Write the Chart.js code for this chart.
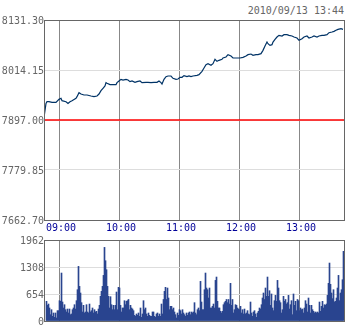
<!DOCTYPE html>
<html lang="en">
<head>
<meta charset="UTF-8">
<title>Intraday index</title>
<script src="https://cdn.jsdelivr.net/npm/chart.js@4/dist/chart.umd.min.js"></script>
<style>
  html, body { margin: 0; padding: 0; background: #fff; }
  body { width: 350px; height: 330px; position: relative; overflow: hidden; }
  #stamp { position: absolute; right: 6px; top: 6px; font: 10px/10px 'DejaVu Sans Mono', monospace; color: #666; }
  canvas { position: absolute; left: 0; }
  #price { top: 0; }
  #vol { top: 230px; }
</style>
</head>
<body>
<div id="stamp">2010/09/13 13:44</div>
<canvas id="price" width="350" height="240"></canvas>
<canvas id="vol" width="350" height="100"></canvas>
<script>
// minutes counted from 08:45, axis runs to 13:45
const xTicks = [15, 75, 135, 195, 255];
const xTickLabels = ['09:00', '10:00', '11:00', '12:00', '13:00'];
const yTicks = [7662.70, 7779.85, 7897.00, 8014.15, 8131.30];
const volTicks = [0, 654, 1308, 1962];
const prevClose = 7897.00;

const lineMinutes = [
  0, 2, 3, 5, 8, 12, 15, 17, 18, 22,
  24, 26, 28, 32, 33, 35, 37, 40, 43, 47,
  50, 53, 55, 57, 59, 61, 62, 63, 66, 68,
  72, 73, 75, 77, 79, 82, 84, 86, 88, 91,
  93, 96, 98, 102, 104, 107, 110, 113, 115, 117,
  118, 120, 122, 124, 127, 129, 132, 134, 136, 138,
  140, 143, 145, 147, 149, 153, 155, 158, 160, 162,
  164, 167, 169, 171, 173, 175, 178, 179, 182, 184,
  187, 189, 193, 196, 199, 202, 204, 207, 209, 212,
  214, 217, 219, 221, 223, 224, 226, 228, 229, 231,
  233, 235, 238, 240, 243, 245, 248, 250, 253, 255,
  258, 260, 263, 265, 268, 270, 273, 275, 278, 280,
  283, 285, 288, 290, 292, 294, 297, 299
];
const lineValues = [
  7903.0, 7936.0, 7939.9, 7939.9, 7938.4, 7938.4, 7945.4, 7947.8, 7942.3, 7939.9,
  7936.0, 7939.9, 7942.3, 7947.8, 7951.7, 7961.0, 7957.9, 7955.6, 7955.6, 7953.2,
  7951.7, 7953.2, 7957.9, 7965.7, 7971.2, 7976.7, 7984.5, 7982.9, 7979.8, 7979.8,
  7979.8, 7984.5, 7988.4, 7992.3, 7990.7, 7992.3, 7990.7, 7986.8, 7988.4, 7985.2,
  7986.8, 7988.4, 7984.5, 7985.2, 7985.2, 7984.5, 7985.2, 7985.2, 7988.4, 7984.5,
  7981.3, 7992.3, 7998.5, 8000.1, 8000.1, 7994.6, 7992.3, 7993.1, 7997.0, 7997.0,
  8000.9, 7998.5, 8000.1, 7998.5, 8000.1, 8001.6, 8003.2, 8011.0, 8018.8, 8026.6,
  8029.0, 8025.1, 8029.0, 8039.1, 8034.4, 8036.8, 8039.1, 8042.3, 8044.6, 8050.1,
  8046.9, 8042.3, 8042.3, 8042.3, 8043.8, 8046.9, 8050.1, 8051.6, 8048.5, 8050.1,
  8050.1, 8052.4, 8060.2, 8070.4, 8079.7, 8075.8, 8071.9, 8073.5, 8079.7, 8086.0,
  8091.5, 8095.4, 8093.8, 8096.9, 8096.9, 8095.4, 8093.8, 8091.5, 8089.1, 8083.6,
  8087.5, 8091.5, 8093.8, 8089.1, 8091.5, 8093.8, 8091.5, 8093.8, 8095.4, 8095.4,
  8096.9, 8101.6, 8103.2, 8104.7, 8107.1, 8109.4, 8111.0, 8109.4
];

// one bar per minute, starting at minute 2
const volFirstMinute = 2;
const volumes = [
  476, 380, 411, 315, 153, 274, 113, 194, 89, 194, 73, 250, 250, 492, 476, 1162, 460, 315, 395, 274,
  218, 290, 194, 290, 153, 170, 274, 315, 395, 290, 492, 758, 1323, 839, 678, 444, 218, 380, 194, 218,
  395, 218, 194, 411, 218, 250, 315, 194, 274, 218, 234, 170, 290, 380, 597, 718, 839, 1105, 1783, 1460,
  1242, 839, 597, 315, 589, 395, 274, 380, 274, 380, 702, 274, 815,
  799, 380, 218, 315, 315, 492, 395, 476, 492, 521, 274, 380, 315, 290, 250, 137, 113, 170, 137, 194,
  113, 315, 89, 170, 492, 274, 315, 170, 113, 194, 137, 113, 113, 218, 218, 113, 89, 170, 194, 113,
  170, 113, 411, 170, 521, 718, 815, 521, 799, 557, 274, 355, 355, 274, 315, 218, 153, 73, 194, 137,
  274, 250, 170, 274, 194, 153, 113, 194, 137, 194, 218, 153, 218, 194, 218,
  444, 194, 153, 274, 315, 250, 960, 460, 274, 274, 758, 1162, 799, 758, 557, 799, 315, 315, 355, 411,
  315, 984, 1065, 476, 315, 315, 234, 194, 234, 395, 444, 476, 521, 444, 521, 411, 912, 380, 521, 194,
  274, 395, 380, 315, 290, 274, 355, 194, 274, 170, 290, 170, 194, 250, 170, 153, 460, 194, 113, 218,
  250, 170, 89, 194, 234, 315, 290, 395, 557, 678, 521, 799, 597, 1065, 597,
  734, 380, 654, 315, 250, 492, 621, 476, 984, 799, 492, 444, 194, 274, 597, 476, 521, 411, 444, 621,
  290, 395, 492, 153, 654, 380, 476, 250, 521, 492, 250, 315, 274, 290, 194, 315, 492, 411, 218, 557,
  380, 194, 380, 274, 234, 194, 218, 194, 218, 194, 460, 234, 355, 476, 315, 395, 380, 411, 621, 912,
  1404, 888, 678, 541, 758, 460, 476, 557, 799, 1105, 492, 678, 758, 1000, 1686
];

const FONT = { family: "'DejaVu Sans Mono', monospace", size: 10 };

const frame = {
  id: 'frame',
  afterDraw(chart) {
    const { ctx, chartArea: a } = chart;
    ctx.save();
    ctx.strokeStyle = '#666';
    ctx.lineWidth = 1;
    ctx.strokeRect(a.left + 0.5, a.top + 0.5, a.right - a.left, a.bottom - a.top);
    ctx.restore();
  }
};

function timeAxis(showLabels) {
  return {
    type: 'linear', min: 0, max: 300, offset: false,
    afterBuildTicks: s => { s.ticks = xTicks.map(v => ({ value: v })); },
    afterFit: s => { s.height = showLabels ? 20 : 0; },
    grid: { color: '#888', drawTicks: false, offset: false },
    border: { display: false },
    ticks: {
      display: showLabels, autoSkip: false, maxRotation: 0, padding: 2, labelOffset: 2,
      color: '#000099', font: FONT,
      callback: (v, i) => xTickLabels[i],
    },
  };
}

function valueAxis(ticks, fmt) {
  return {
    min: ticks[0], max: ticks[ticks.length - 1],
    afterBuildTicks: s => { s.ticks = ticks.map(v => ({ value: v })); },
    afterFit: s => { s.width = 44; },
    grid: { color: '#ddd', drawTicks: false },
    border: { display: false },
    ticks: { padding: 0, labelOffset: 1.5, color: '#666', font: FONT, callback: fmt },
  };
}

new Chart(document.getElementById('price'), {
  type: 'line',
  data: {
    datasets: [
      { data: lineMinutes.map((m, i) => ({ x: m, y: lineValues[i] })),
        borderColor: '#003366', borderWidth: 1.2, pointRadius: 0, order: 0 },
      { data: [{ x: 0, y: prevClose }, { x: 300, y: prevClose }],
        borderColor: '#ff0000', borderWidth: 1.5, pointRadius: 0, order: 1 },
    ],
  },
  options: {
    responsive: false, animation: false, devicePixelRatio: 1,
    layout: { padding: { top: 20, right: 6, bottom: 0, left: 0 } },
    scales: {
      x: timeAxis(true),
      y: valueAxis(yTicks, v => v.toFixed(2)),
    },
    plugins: { legend: { display: false }, tooltip: { enabled: false } },
  },
  plugins: [frame],
});

new Chart(document.getElementById('vol'), {
  type: 'bar',
  data: {
    datasets: [{
      data: volumes.map((v, i) => ({ x: volFirstMinute + i + 0.5, y: v })),
      backgroundColor: '#2a458f', borderWidth: 0,
      barPercentage: 1, categoryPercentage: 1,
    }],
  },
  options: {
    responsive: false, animation: false, devicePixelRatio: 1,
    layout: { padding: { top: 10, right: 6, bottom: 9, left: 0 } },
    scales: {
      x: timeAxis(false),
      y: valueAxis(volTicks, v => String(v)),
    },
    plugins: { legend: { display: false }, tooltip: { enabled: false } },
  },
  plugins: [frame],
});
</script>
</body>
</html>
